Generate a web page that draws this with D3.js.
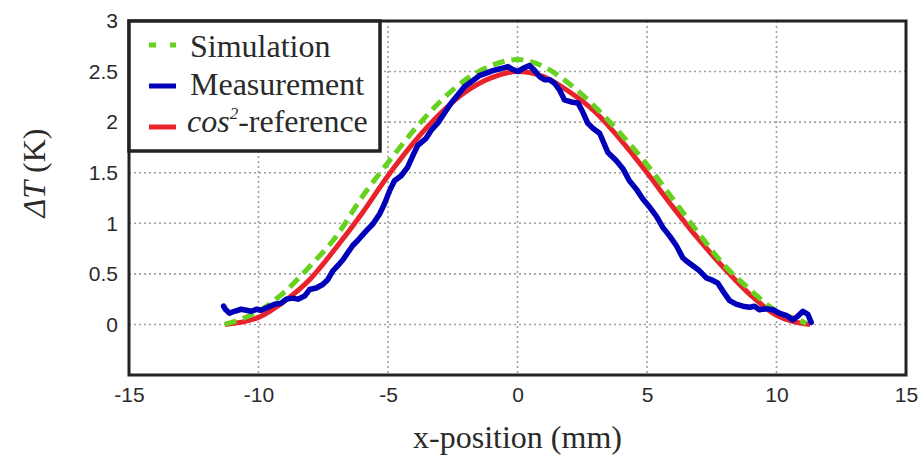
<!DOCTYPE html>
<html>
<head>
<meta charset="utf-8">
<script src="https://cdn.jsdelivr.net/npm/d3@7"></script>
<style>
  body { margin: 0; background: #fff; }
  .tick text { font-family: "Liberation Sans", Arial, sans-serif; font-size: 21px; fill: #2a2a2a; }
  .serif { font-family: "Liberation Serif", "Times New Roman", serif; fill: #2a2a2a; }
</style>
</head>
<body>
<div id="chart"></div>
<script>
// tick labels
var xTicks = [-15, -10, -5, 0, 5, 10, 15];
var yTicks = [0, 0.5, 1, 1.5, 2, 2.5, 3];

// cos^2-reference (x mm, dT K)
var refX = [-11.3, -10, -9, -8, -7, -6, -5, -4, -3, -2, -1, 0, 1, 2, 3, 4, 5, 6, 7, 8, 9, 10, 11.3];
var refY = [0, 0.07, 0.23, 0.45, 0.76, 1.1, 1.47, 1.8, 2.08, 2.3, 2.44, 2.5, 2.45, 2.3, 2.1, 1.82, 1.5, 1.16, 0.84, 0.55, 0.29, 0.09, 0];

// simulation
var simX = [-11.3, -10.6, -10, -9, -8, -7, -6, -5, -4, -3, -2, -1, 0, 1, 2, 3, 4, 5, 6, 7, 8, 9, 10, 10.9, 11.15];
var simY = [0, 0.06, 0.13, 0.32, 0.58, 0.87, 1.26, 1.6, 1.92, 2.2, 2.42, 2.56, 2.62, 2.55, 2.38, 2.15, 1.88, 1.58, 1.24, 0.9, 0.58, 0.34, 0.13, 0.04, 0.01];

// measurement
var measX = [-11.35, -11.28, -11.12, -10.93, -10.67, -10.47, -10.28, -10.08, -9.9, -9.64, -9.38, -9.12, -8.93, -8.68, -8.48, -8.22, -8.03, -7.77, -7.52, -7.32, -7.13, -6.94, -6.74, -6.55, -6.36, -6.17, -5.84, -5.59, -5.33, -5.14, -4.94, -4.75, -4.49, -4.24, -4.04, -3.85, -3.53, -3.33, -3.08, -2.82, -2.56, -2.3, -2.05, -1.73, -1.47, -1.21, -0.95, -0.63, -0.37, -0.18, 0.01, 0.2, 0.46, 0.66, 0.85, 1.04, 1.24, 1.43, 1.62, 1.81, 2.07, 2.33, 2.52, 2.71, 2.91, 3.17, 3.29, 3.49, 3.81, 4.07, 4.32, 4.58, 4.84, 5.1, 5.36, 5.61, 5.87, 6.13, 6.38, 6.51, 6.77, 7.03, 7.29, 7.54, 7.73, 7.93, 8.19, 8.44, 8.7, 8.96, 9.15, 9.34, 9.6, 9.86, 10.12, 10.37, 10.63, 10.82, 11.02, 11.21, 11.34];
var measY = [0.18, 0.15, 0.11, 0.13, 0.15, 0.14, 0.13, 0.15, 0.14, 0.17, 0.2, 0.21, 0.25, 0.26, 0.25, 0.28, 0.345, 0.36, 0.395, 0.445, 0.53, 0.58, 0.64, 0.71, 0.78, 0.83, 0.925, 0.99, 1.09, 1.19, 1.32, 1.42, 1.47, 1.555, 1.67, 1.77, 1.84, 1.92, 1.99, 2.09, 2.19, 2.27, 2.35, 2.41, 2.46, 2.485, 2.51, 2.53, 2.55, 2.52, 2.5, 2.53, 2.56, 2.51, 2.45, 2.42, 2.42, 2.385, 2.32, 2.22, 2.2, 2.19, 2.1, 1.99, 1.94, 1.89, 1.82, 1.7, 1.62, 1.54, 1.42, 1.34, 1.24, 1.16, 1.07, 0.96, 0.875, 0.78, 0.66, 0.63, 0.58, 0.53, 0.46, 0.435, 0.41, 0.33, 0.235, 0.2, 0.18, 0.17, 0.18, 0.145, 0.155, 0.145, 0.11, 0.09, 0.045, 0.08, 0.13, 0.1, 0.02];

var legendNames = ["Simulation", "Measurement", "-reference"];

var W = 923, H = 457;
var margin = {top: 21, right: 17, bottom: 82, left: 129},
    width = W - margin.left - margin.right,
    height = H - margin.top - margin.bottom;

var x = d3.scaleLinear().domain([-15, 15]).range([0, width]);
var y = d3.scaleLinear().domain([-0.5, 3]).range([height, 0]);

var svg = d3.select("#chart").append("svg")
    .attr("width", W)
    .attr("height", H);
var g = svg.append("g")
    .attr("transform", "translate(" + margin.left + "," + margin.top + ")");

//Grid
g.append("g").selectAll("line")
  .data(xTicks.slice(1, -1))
  .enter().append("line")
    .attr("x1", function(d){ return x(d); })
    .attr("x2", function(d){ return x(d); })
    .attr("y1", 0).attr("y2", height)
    .attr("stroke", "#a0a0a0").attr("stroke-width", 1.6)
    .attr("stroke-dasharray", "2,3");
g.append("g").selectAll("line")
  .data(yTicks.slice(0, -1))
  .enter().append("line")
    .attr("y1", function(d){ return y(d); })
    .attr("y2", function(d){ return y(d); })
    .attr("x1", 0).attr("x2", width)
    .attr("stroke", "#a0a0a0").attr("stroke-width", 1.6)
    .attr("stroke-dasharray", "2,3");

//Axes (plain hyphen, no trailing zeros)
var fmt = function(d){ return String(d); };
var xAxis = g.append("g")
    .attr("transform", "translate(0," + height + ")")
    .call(d3.axisBottom(x).tickValues(xTicks).tickFormat(fmt).tickSize(0).tickPadding(12));
var yAxis = g.append("g")
    .call(d3.axisLeft(y).tickValues(yTicks).tickFormat(fmt).tickSize(0).tickPadding(11));
xAxis.select(".domain").remove();
yAxis.select(".domain").remove();

//Curves
var line = d3.line()
    .x(function(d){ return x(d[0]); })
    .y(function(d){ return y(d[1]); });

g.append("path")
    .datum(d3.zip(refX, refY))
    .attr("fill", "none").attr("stroke", "#e8232b").attr("stroke-width", 5)
    .attr("d", line.curve(d3.curveMonotoneX));
g.append("path")
    .datum(d3.zip(simX, simY))
    .attr("fill", "none").attr("stroke", "#66d11f").attr("stroke-width", 5)
    .attr("stroke-dasharray", "12,7")
    .attr("d", line.curve(d3.curveMonotoneX));
g.append("path")
    .datum(d3.zip(measX, measY))
    .attr("fill", "none").attr("stroke", "#0000b8").attr("stroke-width", 5.5)
    .attr("stroke-linejoin", "round").attr("stroke-linecap", "round")
    .attr("d", line.curve(d3.curveLinear));

//Box
g.append("rect")
    .attr("width", width).attr("height", height)
    .attr("fill", "none").attr("stroke", "#222").attr("stroke-width", 3);

//Legend
var legend = g.append("g");
legend.append("rect")
    .attr("x", 0).attr("y", 0).attr("width", 251).attr("height", 130)
    .attr("fill", "#fff").attr("stroke", "#222").attr("stroke-width", 3.5);
var legColors = ["#66d11f", "#0000b8", "#e8232b"];
var legRow = legend.selectAll(".leg")
  .data(legendNames)
  .enter().append("g")
    .attr("class", "leg");
legRow.append("line")
    .attr("x1", 20).attr("x2", 47)
    .attr("y1", function(d, i){ return 24 + i * 41; })
    .attr("y2", function(d, i){ return 24 + i * 41; })
    .attr("stroke", function(d, i){ return legColors[i]; })
    .attr("stroke-width", 5)
    .attr("stroke-dasharray", function(d, i){ return i == 0 ? "7,14" : null; });
var legText = legRow.append("text")
    .attr("class", "serif")
    .attr("x", function(d, i){ return i == 2 ? 58 : 61; })
    .attr("y", function(d, i){ return 36 + i * 37.5; })
    .style("font-size", "32px");
legText.filter(function(d, i){ return i == 2; })
  .append("tspan").style("font-style", "italic").text("cos");
legText.filter(function(d, i){ return i == 2; })
  .append("tspan").style("font-style", "italic").style("font-size", "17px")
    .attr("dy", -13).text("2");
legText.append("tspan")
    .attr("dy", function(d, i){ return i == 2 ? 13 : null; })
    .text(function(d){ return d; });

//Axis titles
svg.append("text")
    .attr("class", "serif")
    .attr("x", margin.left + x(0)).attr("y", 448)
    .attr("text-anchor", "middle")
    .style("font-size", "32px")
    .text("x-position (mm)");
var yl = svg.append("text")
    .attr("class", "serif")
    .attr("transform", "translate(45,173) rotate(-90)")
    .attr("text-anchor", "middle")
    .style("font-size", "32px");
yl.append("tspan").style("font-style", "italic").text("ΔT");
yl.append("tspan").text(" (K)");
</script>
</body>
</html>
